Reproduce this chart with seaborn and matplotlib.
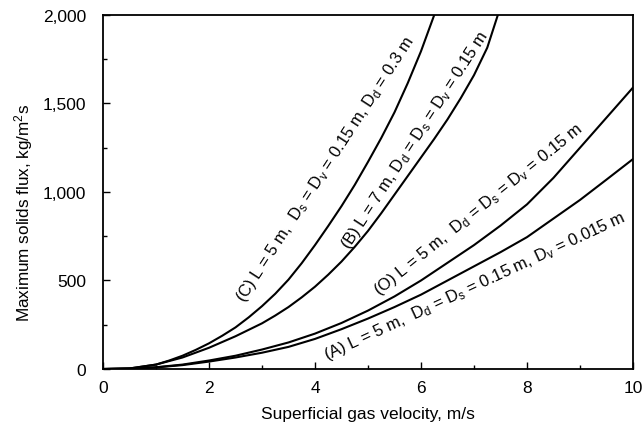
import matplotlib
matplotlib.use("Agg")
import matplotlib.pyplot as plt
import matplotlib.ticker as mticker
import seaborn as sns
import pandas as pd

# ---- data ----
x_C = [0, 0.5, 1, 1.25, 1.5, 1.75, 2, 2.25, 2.5, 2.75, 3, 3.25, 3.5, 3.75, 4, 4.25, 4.5,
       4.75, 5, 5.25, 5.5, 5.75, 6, 6.25]
y_C = [0, 3, 25, 48, 75, 108, 145, 188, 235, 292, 355, 425, 505, 598, 700, 808, 920,
       1040, 1170, 1305, 1450, 1615, 1795, 2000]

x_B = [0, 0.5, 1, 1.5, 2, 2.5, 3, 3.25, 3.5, 3.75, 4, 4.25, 4.5, 4.75, 5, 5.25, 5.5,
       5.75, 6, 6.25, 6.5, 6.75, 7, 7.25, 7.45]
y_B = [0, 3, 25, 65, 120, 185, 258, 302, 350, 405, 465, 533, 607, 690, 780, 880, 985,
       1090, 1195, 1300, 1410, 1530, 1660, 1815, 2000]

x_O = [0, 0.5, 1, 1.5, 2, 2.5, 3, 3.5, 4, 4.5, 5, 5.5, 6, 6.5, 7, 7.5, 8, 8.5, 9, 9.5, 10]
y_O = [0, 2, 10, 25, 48, 75, 110, 150, 200, 260, 330, 410, 500, 600, 700, 810, 930, 1080, 1250, 1420, 1590]

x_A = [0, 0.5, 1, 1.5, 2, 2.5, 3, 3.5, 4, 4.5, 5, 5.5, 6, 6.5, 7, 7.5, 8, 8.5, 9, 9.5, 10]
y_A = [0, 2, 9, 22, 42, 65, 92, 125, 170, 225, 285, 350, 420, 500, 580, 660, 745, 850, 955, 1070, 1186]

curve_names = ["C", "B", "O", "A"]
curve_labels = [
    r"(C) L = 5 m,  D$_\mathregular{s}$ = D$_\mathregular{v}$ = 0.15 m, D$_\mathregular{d}$ = 0.3 m",
    r"(B) L = 7 m, D$_\mathregular{d}$ = D$_\mathregular{s}$ = D$_\mathregular{v}$ = 0.15 m",
    r"(O) L = 5 m,  D$_\mathregular{d}$ = D$_\mathregular{s}$ = D$_\mathregular{v}$ = 0.15 m",
    r"(A) L = 5 m,  D$_\mathregular{d}$ = D$_\mathregular{s}$ = 0.15 m, D$_\mathregular{v}$ = 0.015 m",
]
label_pos = [(4.19, 1130), (5.89, 1300), (7.08, 904), (7.02, 469)]
label_rot = [57, 57, 39, 25]

x_ticks = [0, 2, 4, 6, 8, 10]
y_ticks = [0, 500, 1000, 1500, 2000]
x_title = "Superficial gas velocity, m/s"
y_title = r"Maximum solids flux, kg/m$^\mathregular{2}$s"

frames = []
for name, xs, ys in zip(curve_names, [x_C, x_B, x_O, x_A], [y_C, y_B, y_O, y_A]):
    frames.append(pd.DataFrame({"v": xs, "flux": ys, "curve": name}))
df = pd.concat(frames, ignore_index=True)

sns.set_theme(style="ticks")
plt.rcParams["font.family"] = ["Liberation Sans", "DejaVu Sans"]
plt.rcParams["mathtext.fontset"] = "custom"
plt.rcParams["mathtext.rm"] = "Liberation Sans"
plt.rcParams["mathtext.it"] = "Liberation Sans:italic"

fig = plt.figure(figsize=(6.42, 4.31), dpi=100)
ax = fig.add_axes([0.1604, 0.1415, 0.8256, 0.8215])

sns.lineplot(data=df, x="v", y="flux", units="curve", estimator=None,
             color="black", linewidth=1.5, sort=False, ax=ax, legend=False)

ax.set_xlim(0, 10)
ax.set_ylim(0, 2000)
ax.set_xticks(x_ticks)
ax.set_yticks(y_ticks)
ax.xaxis.set_minor_locator(mticker.MultipleLocator(1))
ax.yaxis.set_minor_locator(mticker.MultipleLocator(250))
ax.yaxis.set_major_formatter(mticker.FuncFormatter(lambda v, p: f"{int(v):,}"))
ax.tick_params(which="both", direction="in", top=False, right=False, colors="black",
               labelsize=12.5, width=1.0)
ax.tick_params(which="major", length=5)
ax.tick_params(axis="y", which="major", pad=12)
ax.tick_params(axis="x", which="major", pad=8)
ax.tick_params(which="minor", length=3)
for s in ax.spines.values():
    s.set_visible(True)
    s.set_color("black")
    s.set_linewidth(1.3)

ax.set_xlabel(x_title, fontsize=12.5, color="black", labelpad=8)
ax.set_ylabel(y_title, fontsize=12.3, color="black")
ax.yaxis.set_label_coords(-0.128, 0.443)

for txt, (px, py), rot in zip(curve_labels, label_pos, label_rot):
    ax.text(px, py, txt, rotation=rot, rotation_mode="anchor", ha="center", va="center",
            fontsize=12, color="black")

fig.savefig("out.png", dpi=100)
